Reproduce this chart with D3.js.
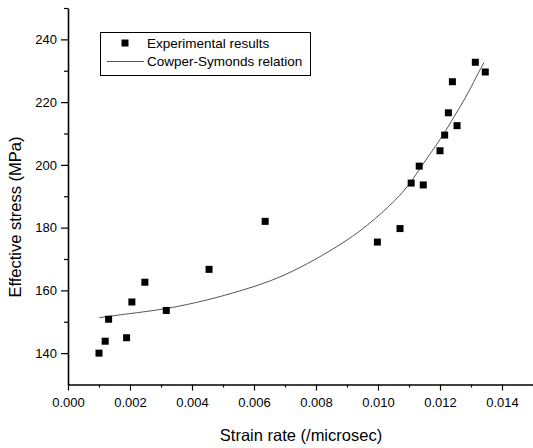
<!DOCTYPE html>
<html>
<head>
<meta charset="utf-8">
<script src="https://cdn.jsdelivr.net/npm/d3@7"></script>
<style>
  body { margin: 0; background: #fff; }
  svg { display: block; font-family: Arial, "Liberation Sans", sans-serif; }
</style>
</head>
<body>
<svg id="chart" width="533" height="448"></svg>
<script>
// Experimental results (strain rate /microsec, effective stress MPa)
const expRate = [0.00100, 0.00120, 0.00131, 0.00189, 0.00206, 0.00248, 0.00317, 0.00455,
    0.00636, 0.00998, 0.01071, 0.01107, 0.01146, 0.01133, 0.01200, 0.01215, 0.01227,
    0.01255, 0.01240, 0.01314, 0.01346];
const expStress = [140.0, 143.8, 150.8, 144.9, 156.3, 162.6, 153.6, 166.7,
    182.0, 175.4, 179.7, 194.2, 193.6, 199.6, 204.5, 209.5, 216.6,
    212.5, 226.5, 232.7, 229.6];

// Cowper-Symonds relation
const fitRate = [0.00101, 0.00189, 0.00317, 0.00455, 0.00555, 0.00652, 0.00748, 0.00845,
    0.00942, 0.01039, 0.01082, 0.01109, 0.01135, 0.01178, 0.01211, 0.01243, 0.01286,
    0.01318, 0.01342];
const fitStress = [151.3, 152.5, 154.0, 157.0, 159.8, 162.8, 167.1, 172.5,
    178.6, 187.0, 191.5, 194.9, 198.8, 204.9, 209.6, 215.0, 221.9,
    228.3, 232.6];

const xMajor = [0, 0.002, 0.004, 0.006, 0.008, 0.010, 0.012, 0.014];
const xMinor = [0.001, 0.003, 0.005, 0.007, 0.009, 0.011, 0.013, 0.015];
const yMajor = [140, 160, 180, 200, 220, 240];
const yMinor = [150, 170, 190, 210, 230, 250];

const legendLabels = ['Experimental results', 'Cowper-Symonds relation'];

const svg = d3.select('#chart');

const xScale = d3.scaleLinear().domain([0, 0.015]).range([68, 533]);
const yScale = d3.scaleLinear().domain([130, 250]).range([384.5, 8]);

// X axis: major ticks with labels, then minor ticks
const xAxisG = svg.append('g')
    .attr('transform', `translate(0, ${yScale(130)})`)
    .call(d3.axisBottom(xScale).tickValues(xMajor).tickSize(6).tickSizeOuter(0)
        .tickFormat(d3.format('.3f')));
svg.append('g')
    .attr('transform', `translate(0, ${yScale(130)})`)
    .call(d3.axisBottom(xScale).tickValues(xMinor).tickSize(3).tickFormat(''))
    .select('.domain').remove();

// Y axis
const yAxisG = svg.append('g')
    .attr('transform', `translate(${xScale(0)}, 0)`)
    .call(d3.axisLeft(yScale).tickValues(yMajor).tickSize(7).tickSizeOuter(0)
        .tickFormat(d3.format('d')));
svg.append('g')
    .attr('transform', `translate(${xScale(0)}, 0)`)
    .call(d3.axisLeft(yScale).tickValues(yMinor).tickSize(4).tickFormat(''))
    .select('.domain').remove();

svg.selectAll('.domain').attr('stroke', '#000').attr('stroke-width', 1.6);
svg.selectAll('.tick line').attr('stroke', '#000').attr('stroke-width', 1.2);

xAxisG.selectAll('text')
    .attr('font-size', '13px')
    .attr('fill', '#000')
    .attr('dy', '1.05em');
yAxisG.selectAll('text')
    .attr('font-size', '13px')
    .attr('fill', '#000')
    .attr('x', -11);

// Axis titles
svg.append('text')
    .attr('x', 301)
    .attr('y', 441)
    .attr('text-anchor', 'middle')
    .attr('font-size', '16.5px')
    .text('Strain rate (/microsec)');

svg.append('text')
    .attr('transform', 'translate(21, 217) rotate(-90)')
    .attr('text-anchor', 'middle')
    .attr('font-size', '16.5px')
    .text('Effective stress (MPa)');

// Fitted curve
const line = d3.line()
    .x((d, i) => xScale(fitRate[i]))
    .y((d) => yScale(d))
    .curve(d3.curveBasis);

svg.append('path')
    .attr('d', line(fitStress))
    .attr('fill', 'none')
    .attr('stroke', '#555')
    .attr('stroke-width', 1);

// Experimental points
const size = 7;
svg.append('g')
    .selectAll('rect')
    .data(expStress)
    .join('rect')
    .attr('x', (d, i) => xScale(expRate[i]) - size / 2)
    .attr('y', (d) => yScale(d) - size / 2)
    .attr('width', size)
    .attr('height', size)
    .attr('fill', '#000');

// Legend
const legend = svg.append('g');
legend.append('rect')
    .attr('x', 100.5)
    .attr('y', 32.5)
    .attr('width', 210)
    .attr('height', 43)
    .attr('fill', '#fff')
    .attr('stroke', '#000')
    .attr('stroke-width', 1);
legend.append('rect')
    .attr('x', 125 - size / 2)
    .attr('y', 43 - size / 2)
    .attr('width', size)
    .attr('height', size)
    .attr('fill', '#000');
legend.append('line')
    .attr('x1', 107)
    .attr('x2', 144)
    .attr('y1', 61.5)
    .attr('y2', 61.5)
    .attr('stroke', '#555')
    .attr('stroke-width', 1);
legend.selectAll('text.lbl')
    .data(legendLabels)
    .join('text')
    .attr('class', 'lbl')
    .attr('x', 147)
    .attr('y', (d, i) => 43 + i * 18.5)
    .attr('dy', '0.35em')
    .attr('font-size', '13.5px')
    .text((d) => d);
</script>
</body>
</html>
